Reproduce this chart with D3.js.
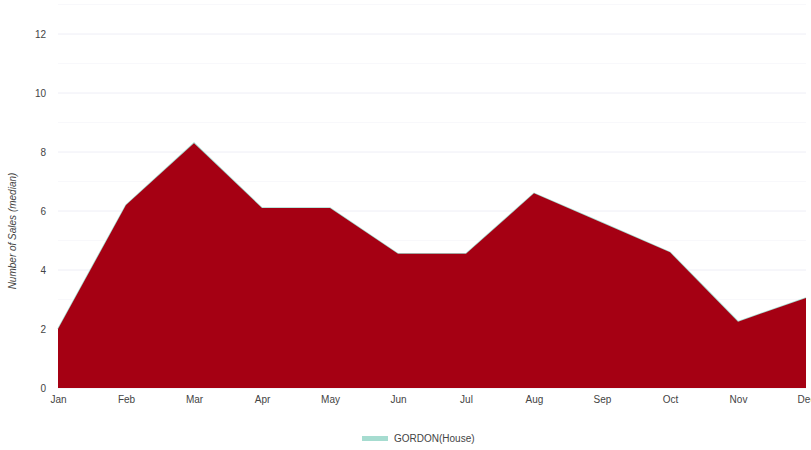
<!DOCTYPE html>
<html>
<head>
<meta charset="utf-8">
<script src="https://cdn.jsdelivr.net/npm/d3@7"></script>
<style>
	body{margin:0;background:#fff;}
	text{font-family:"Liberation Sans",Arial,sans-serif;}
</style>
</head>
<body>
<svg id="chart" width="811" height="450"></svg>
<script>

const months = ["Jan","Feb","Mar","Apr","May","Jun","Jul","Aug","Sep","Oct","Nov","Dec"]
const sales = [2, 6.2, 8.3, 6.1, 6.1, 4.55, 4.55, 6.6, 5.6, 4.6, 2.25, 3.05]
const yTicks = [0,2,4,6,8,10,12]
const seriesName = "GORDON(House)"

let svg = d3.select("#chart")
let plotLeft = 58, plotRight = 806, plotTop = 34, plotBottom = 388

let x = d3.scalePoint().domain(months).range([plotLeft,plotRight])
let y = d3.scaleLinear().domain([0,12]).range([plotBottom,plotTop])

// faint minor grid + major grid
let minor = [1,3,5,7,9,11,13]
svg.append("g").selectAll("line").data(minor).join("line")
	.attr("x1",plotLeft).attr("x2",plotRight)
	.attr("y1",d => y(d)).attr("y2",d => y(d))
	.attr("stroke","#f8f8fb").attr("stroke-width",1)
svg.append("g").selectAll("line").data(yTicks).join("line")
	.attr("x1",plotLeft).attr("x2",plotRight)
	.attr("y1",d => y(d)).attr("y2",d => y(d))
	.attr("stroke","#eeeef6").attr("stroke-width",1)

let data = months.map((m,i) => ({m:m,v:sales[i]}))

svg.append("path")
	.datum(data)
	.attr("fill","none")
	.attr("stroke","#a6dcd0")
	.attr("stroke-width",1.5)
	.attr("d",d3.line().x(d => x(d.m)).y(d => y(d.v)))

svg.append("path")
	.datum(data)
	.attr("fill","#a50013")
	.attr("d",d3.area().x(d => x(d.m)).y0(y(0)).y1(d => y(d.v)))

// y axis
let yAxis = svg.append("g")
	.attr("transform","translate("+(plotLeft-12)+",0)")
	.call(d3.axisLeft(y).tickValues(yTicks).tickSize(0).tickPadding(0))
yAxis.select(".domain").remove()
yAxis.selectAll("text").attr("fill","#444").style("font-size","10px")

// x axis
let xAxis = svg.append("g")
	.attr("transform","translate(0,"+(plotBottom+4)+")")
	.call(d3.axisBottom(x).tickSize(0).tickPadding(4))
xAxis.select(".domain").remove()
xAxis.selectAll("text").attr("fill","#444").style("font-size","10px")

svg.append("text")
	.attr("transform","translate(16,"+((plotTop+plotBottom)/2+20)+") rotate(-90)")
	.attr("text-anchor","middle")
	.style("font-size","10px")
	.style("font-style","italic")
	.attr("fill","#444")
	.text("Number of Sales (median)")

// legend
svg.append("rect")
	.attr("x",362).attr("y",436).attr("width",26).attr("height",5)
	.attr("fill","#a6dcd0")
svg.append("text")
	.attr("x",394).attr("y",442)
	.style("font-size","10px")
	.attr("fill","#444")
	.text(seriesName)

</script>
</body>
</html>
